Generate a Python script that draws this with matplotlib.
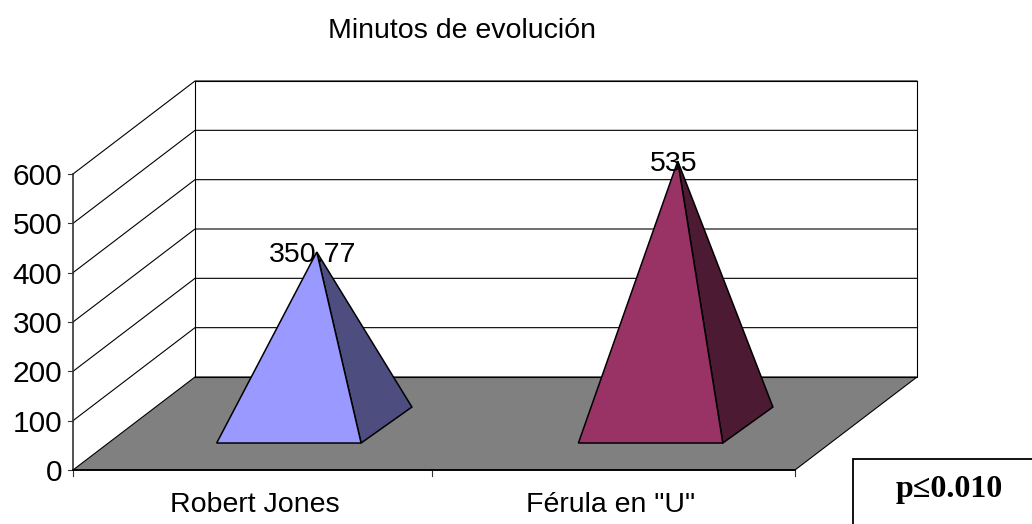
import matplotlib
matplotlib.use('Agg')
import matplotlib.pyplot as plt

# data
categories = ['Robert Jones', 'Férula en "U"']
values = [350.77, 535]
value_labels = ['350.77', '535']
y_ticks = [0, 100, 200, 300, 400, 500, 600]
front_colors = ['#9999ff', '#993366']
side_colors = ['#4d4d80', '#4d1a33']

# pixel geometry of the fake 3d box
X0, Y0 = 73, 470
CAT_W = 361
PX_PER_UNIT = 296 / 600
DEPTH_X, DEPTH_Y = 122, -93


def proj(cat, val, depth=0):
    return (X0 + cat * CAT_W + depth * DEPTH_X,
            Y0 - val * PX_PER_UNIT + depth * DEPTH_Y)


plt.rcParams['font.family'] = ['Liberation Sans', 'DejaVu Sans']
fig = plt.figure(figsize=(10.32, 5.24), dpi=100)
ax = fig.add_axes([0, 0, 1, 1])
ax.set_xlim(0, 1032)
ax.set_ylim(524, 0)
ax.axis('off')

n = len(categories)
top = y_ticks[-1]
lw = 0.8
fs = 20.5

# floor
floor = [proj(0, 0), proj(n, 0), proj(n, 0, 1), proj(0, 0, 1)]
ax.fill(*zip(*floor), facecolor='#808080', edgecolor='black', lw=lw, zorder=1)

# back wall and gridlines
back = [proj(0, 0, 1), proj(n, 0, 1), proj(n, top, 1), proj(0, top, 1), proj(0, 0, 1)]
ax.plot(*zip(*back), color='black', lw=lw, zorder=2)
for t in y_ticks[1:]:
    ax.plot(*zip(proj(0, t), proj(0, t, 1), proj(n, t, 1)), color='black', lw=lw, zorder=2)

# left wall front edge, ticks and labels
ax.plot(*zip(proj(0, 0), proj(0, top)), color='#333333', lw=1.2, zorder=2)
ax.plot(*zip(proj(0, 0), proj(n, 0)), color='black', lw=1.3, zorder=3)
for t in y_ticks:
    x, y = proj(0, t)
    ax.plot([x - 5, x], [y, y], color='#333333', lw=lw, zorder=2)
    ax.text(x - 11, y + 3, str(t), ha='right', va='center', fontsize=21.5)
for i in [0, 0.995, 2]:
    x, y = proj(i, 0)
    ax.plot([x, x], [y, y + 6], color='#333333', lw=lw, zorder=2)

# pyramids
for i, (val, c1, c2) in enumerate(zip(values, front_colors, side_colors)):
    fl = proj(i + 0.3 + 0.002 * i, 0, 0.29)
    fr = proj(i + 0.7 + 0.002 * i, 0, 0.29)
    br = proj(i + 0.71, 0, 0.677)
    apex = proj(i + 0.512, val, 0.483)
    ax.fill(*zip(fr, br, apex), facecolor=c2, edgecolor='black', lw=1.1, zorder=4)
    ax.fill(*zip(fl, fr, apex), facecolor=c1, edgecolor='black', lw=1.1, zorder=5)
    ax.text(apex[0] - 4, apex[1] + 3, value_labels[i], ha='center', va='center',
            fontsize=fs, zorder=6)
    x, y = proj(i + 0.5, 0)
    ax.text(x + 1 - 5 * i, y + 35, categories[i], ha='center', va='center', fontsize=fs)

ax.text(462, 31, 'Minutos de evolución', ha='center', va='center', fontsize=fs)

# p value box, runs off the right and bottom edges
ax.add_patch(plt.Rectangle((853, 459), 185, 70, facecolor='white', edgecolor='black',
                           lw=1.3, zorder=6))
ax.text(949, 490, 'p≤0.010', ha='center', va='center', fontsize=23, fontweight='bold',
        family=['Liberation Serif', 'DejaVu Serif'], zorder=7)

fig.savefig('out.png', dpi=100)
